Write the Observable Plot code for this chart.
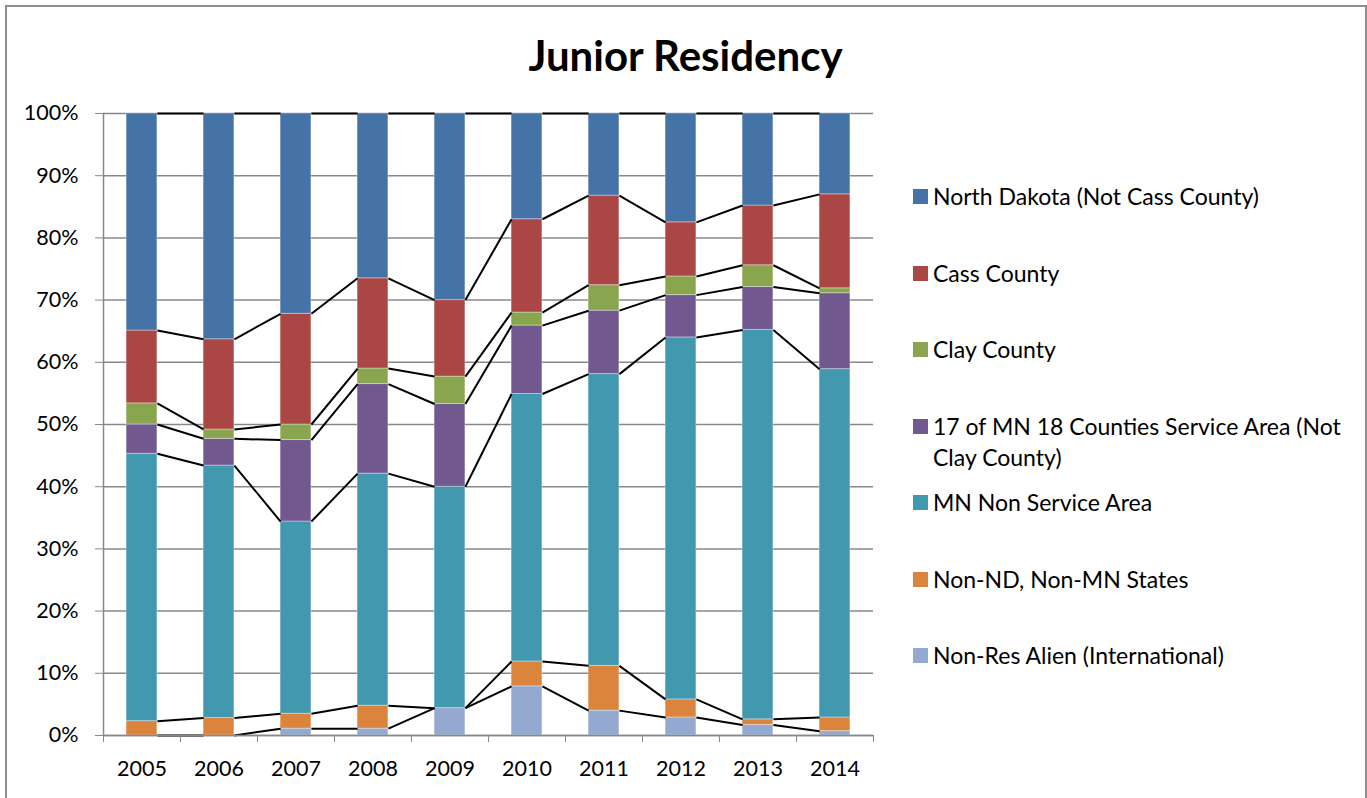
<!DOCTYPE html>
<html>
<head>
<meta charset="utf-8">
<script src="https://cdn.jsdelivr.net/npm/d3@7"></script>
<script src="https://cdn.jsdelivr.net/npm/@observablehq/plot@0.6"></script>
<style>
  html, body { margin: 0; padding: 0; background: #fff; }
  #chart { position: relative; width: 1367px; height: 798px; overflow: hidden; font-family: Lato, "Open Sans", sans-serif; }
  #frame { position: absolute; left: 5px; top: 5px; width: 1362px; height: 900px; border: 2px solid #8e8e8e; box-sizing: border-box; pointer-events: none; }
  #title { height: 95px; box-sizing: border-box; padding-top: 33px; line-height: 44px; text-align: center; font-weight: bold; font-size: 42px; color: #000; padding-left: 4px; }
  #plot svg { display: block; }
  #legend { position: absolute; left: 913px; top: 181px; }
  .item { height: 76.5px; display: flex; align-items: flex-start; }
  .sw { width: 15px; height: 15px; margin-top: 8px; margin-right: 5px; flex: none; }
  .lab { font-size: 23px; line-height: 31px; color: #000; width: 425px; }
</style>
</head>
<body>
<div id="chart">
  <div id="title">Junior Residency</div>
  <div id="plot"></div>
  <div id="legend"></div>
  <div id="frame"></div>
</div>
<script>
// ---- Data (percent of juniors) ----
const years = [2005, 2006, 2007, 2008, 2009, 2010, 2011, 2012, 2013, 2014];

// series listed bottom-to-top in the stack
const seriesNames = [
  "Non-Res Alien (International)",
  "Non-ND, Non-MN States",
  "MN Non Service Area",
  "17 of MN 18 Counties Service Area (Not Clay County)",
  "Clay County",
  "Cass County",
  "North Dakota (Not Cass County)"
];
const seriesColors = ["#93A9CF", "#DB843D", "#4198AF", "#71588F", "#89A54E", "#AA4643", "#4572A7"];

const nonResAlien   = [0.0, 0.0, 1.1, 1.1, 4.4, 7.9, 4.0, 2.9, 1.7, 0.7];
const nonNdNonMn    = [2.3, 2.8, 2.4, 3.7, 0.0, 4.0, 7.2, 2.9, 0.9, 2.2];
const mnNonService  = [43.0, 40.6, 30.9, 37.3, 35.6, 43.0, 46.9, 58.2, 62.6, 56.0];
const mn17Counties  = [4.7, 4.3, 13.1, 14.4, 13.3, 11.0, 10.2, 6.8, 6.9, 12.2];
const clayCounty    = [3.4, 1.5, 2.5, 2.5, 4.4, 2.1, 4.1, 3.0, 3.5, 0.8];
const cassCounty    = [11.7, 14.5, 17.8, 14.5, 12.3, 15.0, 14.4, 8.7, 9.6, 15.1];
const northDakota   = [34.9, 36.3, 32.2, 26.5, 30.0, 17.0, 13.2, 17.5, 14.8, 13.0];

const yTicks = [0, 0.1, 0.2, 0.3, 0.4, 0.5, 0.6, 0.7, 0.8, 0.9, 1.0];

// ---- Build table (100% stacked) ----
const seriesValues = [nonResAlien, nonNdNonMn, mnNonService, mn17Counties, clayCounty, cassCounty, northDakota];
const halfBar = 0.2; // bar width as a fraction of a category
const rows = [];
years.forEach((yr, i) => {
  const total = d3.sum(seriesValues, s => s[i]);
  let acc = 0;
  seriesValues.forEach((s, k) => {
    const v = s[i] / total;
    rows.push({year: yr, idx: i, series: seriesNames[k], k, y1: acc, y2: acc + v});
    acc += v;
  });
});
// series lines: connect top of each segment between adjacent bars
const links = [];
seriesNames.forEach((name, k) => {
  for (let i = 0; i < years.length - 1; i++) {
    const a = rows.find(r => r.idx === i && r.k === k);
    const b = rows.find(r => r.idx === i + 1 && r.k === k);
    links.push({x1: a.year + halfBar, y1: a.y2, x2: b.year - halfBar, y2: b.y2});
  }
});
const boundaries = [years[0] - 0.5, ...years.map(y => y + 0.5)];

const gray = "#888888";
const chart = Plot.plot({
  width: 1367,
  height: 703,
  marginTop: 18,
  marginBottom: 63,
  marginLeft: 103,
  marginRight: 494,
  style: {fontFamily: "Lato, 'Open Sans', sans-serif", background: "white"},
  x: {type: "linear", domain: [years[0] - 0.5, years[years.length - 1] + 0.5]},
  y: {domain: [0, 1]},
  color: {domain: seriesNames, range: seriesColors},
  marks: [
    Plot.ruleY(yTicks, {stroke: gray, strokeWidth: 1.5}),
    Plot.rectY(rows, {
      x1: d => d.year - halfBar, x2: d => d.year + halfBar,
      y1: "y1", y2: "y2", fill: "series",
      stroke: "white", strokeOpacity: 0.35, strokeWidth: 1
    }),
    Plot.link(links, {x1: "x1", y1: "y1", x2: "x2", y2: "y2", stroke: "black", strokeWidth: 2}),
    Plot.ruleX([years[0] - 0.5], {stroke: gray, strokeWidth: 1.5}),
    Plot.ruleY([0], {stroke: gray, strokeWidth: 1.5}),
    Plot.axisY({ticks: yTicks, tickFormat: d3.format(".0%"), tickSize: 8, tickPadding: 17,
                stroke: gray, fill: "black", fontSize: 21.5, label: null}),
    Plot.axisX({ticks: boundaries, tickFormat: () => "", tickSize: 7, stroke: gray, label: null}),
    Plot.axisX({ticks: years, tickFormat: d => String(d), tickSize: 0, tickPadding: 25,
                fill: "black", fontSize: 21.5, label: null})
  ]
});
document.getElementById("plot").appendChild(chart);

// ---- Legend (top-to-bottom order as in the reference) ----
const legend = document.getElementById("legend");
for (let k = seriesNames.length - 1; k >= 0; k--) {
  const item = document.createElement("div");
  item.className = "item";
  const sw = document.createElement("div");
  sw.className = "sw";
  sw.style.background = seriesColors[k];
  const lab = document.createElement("div");
  lab.className = "lab";
  lab.textContent = seriesNames[k];
  item.appendChild(sw);
  item.appendChild(lab);
  legend.appendChild(item);
}
</script>
</body>
</html>
